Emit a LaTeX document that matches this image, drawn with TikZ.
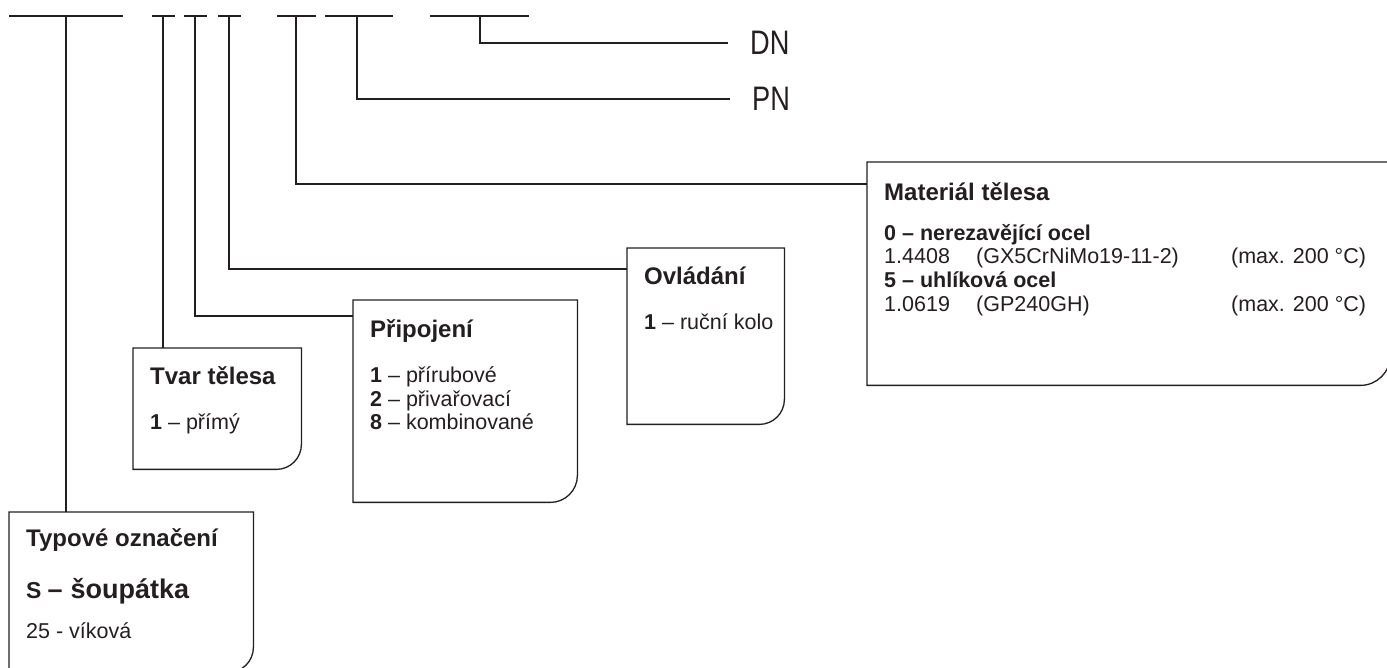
\documentclass[tikz,border=0pt]{standalone}
\usepackage{fontspec}
\setmainfont{Liberation Sans}
\newfontfamily\narrowsans{Liberation Sans}[FakeStretch=0.8]
\definecolor{ink}{HTML}{231F20}
\tikzset{wire/.style = {draw=ink, line width=1.3pt}}
\tikzset{tag/.style = {inner sep = 0, anchor = north west}}
\tikzset{head/.style = {anchor = base west, inner sep = 0, text = ink,
                        font = \fontsize{24}{28}\selectfont\bfseries}}
\tikzset{item/.style = {anchor = base west, inner sep = 0, text = ink,
                        font = \fontsize{21.5}{24}\selectfont}}
\tikzset{code/.style = {anchor = west, inner xsep = 22pt, inner ysep = 0, text = ink,
                        font = \fontsize{34}{34}\narrowsans}}
\newcommand\tagframe[2]{%
  \draw [wire] (#1.south west) -- (#1.north west) -- (#1.north east)
    -- ([yshift=#2pt]#1.south east) arc [start angle=0, end angle=-90, radius=#2pt]
    -- cycle;}

\begin{document}
\begin{tikzpicture}[x=1pt, y=1pt]
  \clip (0,0) rectangle (1387,667);
  % bars of the type code
  \draw [wire] (9,651) -- (123,651);
  \draw [wire] (152,651) -- (175,651);
  \draw [wire] (184,651) -- (207,651);
  \draw [wire] (218,651) -- (241,651);
  \draw [wire] (277,651) -- (316,651);
  \draw [wire] (325,651) -- (393,651);
  \draw [wire] (430,651) -- (529,651);
  \coordinate (t1) at (66,651);
  \coordinate (t2) at (163,651);
  \coordinate (t3) at (195,651);
  \coordinate (t4) at (229,651);
  \coordinate (t5) at (296,651);
  \coordinate (t6) at (357,651);
  \coordinate (t7) at (480,651);

  % Typové označení
  \node [tag, minimum width=244, minimum height=160] (typ) at (9,155) {};
  \tagframe{typ}{25}
  \node [head] (typ-h) at ([shift={(17,-35)}]typ.north west) {Typové označení};
  \node [head] (typ-s) at ([shift={(17,-86)}]typ.north west)
    {{\fontsize{23}{23}\selectfont S}\hspace{6pt}{\fontsize{27}{27}\selectfont –\hspace{8pt}šoupátka}};
  \node [item] (typ-1) at ([shift={(17,-126)}]typ.north west) {25 - víková};

  % Tvar tělesa
  \node [tag, minimum width=168, minimum height=121] (tvar) at (133,319) {};
  \tagframe{tvar}{25}
  \node [head] (tvar-h) at ([shift={(17,-37)}]tvar.north west) {Tvar tělesa};
  \node [item] (tvar-1) at ([shift={(17,-82)}]tvar.north west) {\textbf{1} – přímý};

  % Připojení
  \node [tag, minimum width=224, minimum height=202] (pri) at (353,367) {};
  \tagframe{pri}{27}
  \node [head] (pri-h) at ([shift={(17,-38)}]pri.north west) {Připojení};
  \node [item] (pri-1) at ([shift={(17,-83)}]pri.north west) {\textbf{1} – přírubové};
  \node [item] (pri-2) at ([shift={(17,-107)}]pri.north west) {\textbf{2} – přivařovací};
  \node [item] (pri-8) at ([shift={(17,-130)}]pri.north west) {\textbf{8} – kombinované};

  % Ovládání
  \node [tag, minimum width=157, minimum height=176] (ovl) at (627,419) {};
  \tagframe{ovl}{25}
  \node [head] (ovl-h) at ([shift={(17,-37)}]ovl.north west) {Ovládání};
  \node [item] (ovl-1) at ([shift={(17,-82)}]ovl.north west) {\textbf{1} – ruční kolo};

  % Materiál tělesa
  \node [tag, minimum width=523, minimum height=223] (mat) at (867,505) {};
  \tagframe{mat}{30}
  \node [head] (mat-h) at ([shift={(17,-39)}]mat.north west) {Materiál tělesa};
  \node [item] (mat-0) at ([shift={(17,-79)}]mat.north west) {\textbf{0 – nerezavějící ocel}};
  \node [item] (mat-0a) at ([shift={(17,-102)}]mat.north west)
    {\makebox[92pt][l]{1.4408}\makebox[255pt][l]{(GX5CrNiMo19-11-2)}(max. 200 °C)};
  \node [item] (mat-5) at ([shift={(17,-126)}]mat.north west) {\textbf{5 – uhlíková ocel}};
  \node [item] (mat-5a) at ([shift={(17,-150)}]mat.north west)
    {\makebox[92pt][l]{1.0619}\makebox[255pt][l]{(GP240GH)}(max. 200 °C)};

  % PN, DN
  \node [code] (pn) at (730,568) {PN};
  \node [code] (dn) at (728,624) {DN};

  % connectors
  \draw [wire] (t1) -- (t1 |- typ.north);
  \draw [wire] (t2) -- (t2 |- tvar.north);
  \draw [wire] (t3) |- ([yshift=-16pt]pri.north west);
  \draw [wire] (t4) |- ([yshift=-21pt]ovl.north west);
  \draw [wire] (t5) |- ([yshift=-22pt]mat.north west);
  \draw [wire] (t6) |- (pn.west);
  \draw [wire] (t7) |- (dn.west);
\end{tikzpicture}
\end{document}
